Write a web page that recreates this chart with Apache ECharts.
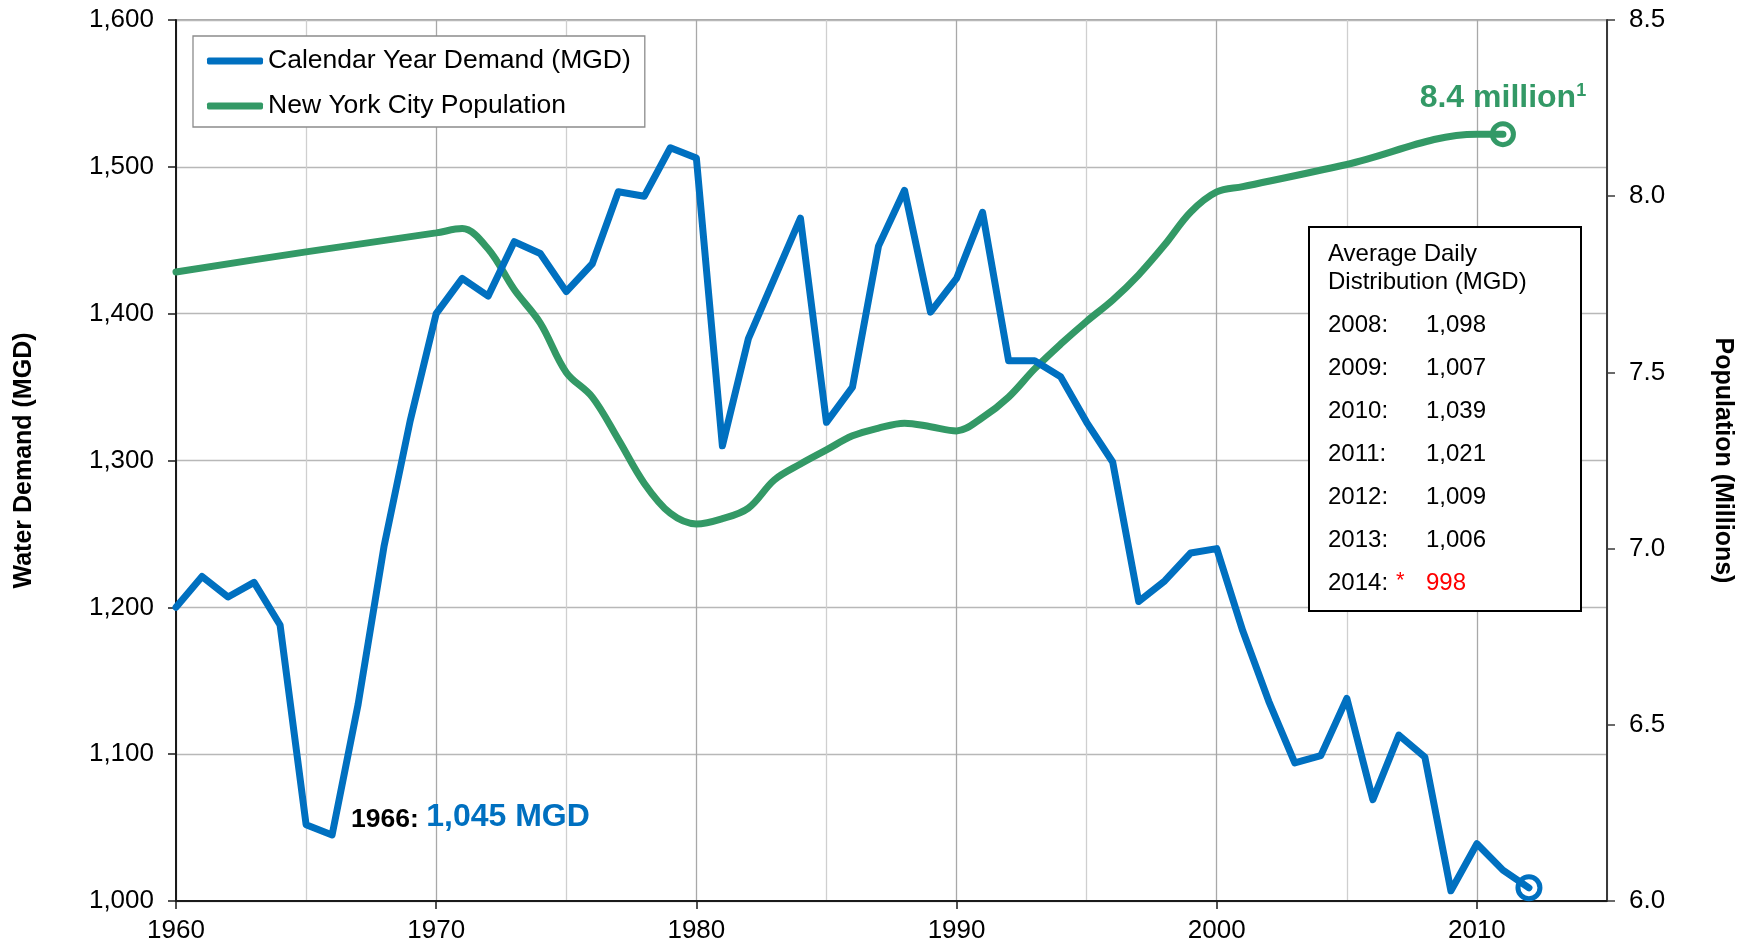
<!DOCTYPE html>
<html>
<head>
<meta charset="utf-8">
<script src="https://cdn.jsdelivr.net/npm/echarts@6.0.0/dist/echarts.min.js"></script>
<style>
  html, body { margin: 0; padding: 0; background: #fff; }
  #chart { width: 1748px; height: 944px; }
</style>
</head>
<body>
<div id="chart"></div>
<script>
// calendar year demand (MGD), 1960 - 2012
const demandYears = [
  1960, 1961, 1962, 1963, 1964, 1965, 1966, 1967, 1968, 1969,
  1970, 1971, 1972, 1973, 1974, 1975, 1976, 1977, 1978, 1979,
  1980, 1981, 1982, 1983, 1984, 1985, 1986, 1987, 1988, 1989,
  1990, 1991, 1992, 1993, 1994, 1995, 1996, 1997, 1998, 1999,
  2000, 2001, 2002, 2003, 2004, 2005, 2006, 2007, 2008, 2009,
  2010, 2011, 2012
]
const demandValues = [
  1200, 1221, 1207, 1217, 1188, 1052, 1045, 1134, 1242, 1327,
  1400, 1424, 1412, 1449, 1441, 1415, 1434, 1483, 1480, 1513,
  1506, 1310, 1383, 1424, 1465, 1326, 1350, 1446, 1484, 1401,
  1424, 1469, 1368, 1368, 1357, 1326, 1299, 1204, 1218, 1237,
  1240, 1184, 1136, 1094, 1099, 1138, 1069, 1113, 1098, 1007,
  1039, 1021, 1009
]

// NYC population (millions)
const popYears = [
  1960, 1965, 1970, 1971, 1972, 1973, 1974, 1975, 1976, 1977, 1978, 1979,
  1980, 1981, 1982, 1983, 1984, 1985, 1986, 1987, 1988, 1989,
  1990, 1991, 1992, 1993, 1994, 1995, 1996, 1997, 1998, 1999,
  2000, 2001, 2005, 2010, 2011
]
const popValues = [
  7.785, 7.842, 7.896, 7.908, 7.85, 7.735, 7.64, 7.5, 7.43, 7.31, 7.185, 7.1,
  7.07, 7.085, 7.115, 7.195, 7.24, 7.28, 7.32, 7.342, 7.356, 7.346,
  7.334, 7.372, 7.43, 7.51, 7.58, 7.645, 7.705, 7.777, 7.862, 7.955,
  8.012, 8.027, 8.09, 8.176, 8.176
]

const xLabelYears = [1960, 1970, 1980, 1990, 2000, 2010]

// inset table
const insetYears = ['2008:', '2009:', '2010:', '2011:', '2012:', '2013:', '2014:']
const insetValues = ['1,098', '1,007', '1,039', '1,021', '1,009', '1,006', '998']
const insetEstimated = [false, false, false, false, false, false, true]

const BLUE = '#0070C0'
const GREEN = '#339966'
const FONT = '"Liberation Sans", Arial, sans-serif'

const chart = echarts.init(document.getElementById('chart'))

const demandData = demandYears.map((y, i) => [y, demandValues[i]])
const popData = popYears.map((y, i) => [y, popValues[i]])
const lastDemand = demandData[demandData.length - 1]
const lastPop = popData[popData.length - 1]
const minDemandIdx = demandValues.indexOf(Math.min(...demandValues.slice(0, 20)))

// inset box (drawn above the plot)
const insetTop = 226
const insetLeft = 1308
const txt = (x, y, text, font, fill) => ({
  type: 'text', x: x, y: y, z: 101,
  style: { text: text, font: font, fill: fill, verticalAlign: 'middle' }
})
const insetChildren = [
  { type: 'rect', z: 100, shape: { x: 0, y: 0, width: 272, height: 384 },
    style: { fill: '#fff', stroke: '#000', lineWidth: 2 } },
  txt(19, 27, 'Average Daily', '24px ' + FONT, '#000'),
  txt(19, 55, 'Distribution (MGD)', '24px ' + FONT, '#000')
]
insetYears.forEach((yr, i) => {
  const cy = 98 + i * 43.1
  insetChildren.push(txt(19, cy, yr, '24px ' + FONT, '#000'))
  if (insetEstimated[i]) {
    insetChildren.push(txt(87, cy - 3, '*', '22px ' + FONT, '#ff0000'))
  }
  insetChildren.push(txt(117, cy, insetValues[i], '24px ' + FONT,
    insetEstimated[i] ? '#ff0000' : '#000'))
})

const option = {
  animation: false,
  backgroundColor: '#fff',
  textStyle: { fontFamily: FONT },
  grid: {
    left: 176, right: 141, top: 20, bottom: 43,
    show: true, borderColor: '#8c8c8c', borderWidth: 1.5
  },
  legend: {
    orient: 'vertical',
    left: 193, top: 36,
    padding: [11, 14, 7, 14],
    itemGap: 17,
    itemWidth: 56, itemHeight: 7,
    itemTextGap: 3,
    icon: 'roundRect',
    borderColor: '#8c8c8c', borderWidth: 1.3,
    backgroundColor: '#fff',
    textStyle: { fontSize: 26.5, color: '#000', lineHeight: 28, fontFamily: FONT },
    data: ['Calendar Year Demand (MGD)', 'New York City Population']
  },
  xAxis: [
    {
      type: 'value', min: 1960, max: 2015, interval: 5,
      axisLine: { show: true, onZero: false, lineStyle: { color: '#1a1a1a', width: 2 } },
      axisTick: { show: false },
      axisLabel: { show: false },
      splitLine: { show: true, lineStyle: { color: ['#a8a8a8', '#cfcfcf'], width: 1.3 } }
    },
    {
      type: 'value', min: 1960, max: 2015, position: 'bottom',
      axisLine: { show: false },
      axisTick: { show: true, customValues: xLabelYears, length: 8, lineStyle: { color: '#1a1a1a', width: 1.5 } },
      axisLabel: { show: true, customValues: xLabelYears, margin: 17, fontSize: 26, color: '#000',
        formatter: v => String(v) },
      splitLine: { show: false }
    }
  ],
  yAxis: [
    {
      type: 'value', min: 1000, max: 1600, interval: 100,
      name: 'Water Demand (MGD)', nameLocation: 'middle', nameGap: 139,
      nameTextStyle: { fontSize: 25, fontWeight: 'bold', color: '#000' },
      axisLine: { show: true, lineStyle: { color: '#1a1a1a', width: 2 } },
      axisTick: { show: true, length: 8, lineStyle: { color: '#1a1a1a', width: 1.5 } },
      axisLabel: { margin: 22, fontSize: 26, color: '#000',
        formatter: v => v.toLocaleString('en-US') },
      splitLine: { show: true, lineStyle: { color: '#b8b8b8', width: 1.3 } }
    },
    {
      type: 'value', min: 6, max: 8.5, interval: 0.5, position: 'right',
      name: 'Population (Millions)', nameLocation: 'middle', nameGap: 103, nameRotate: -90,
      nameTextStyle: { fontSize: 25, fontWeight: 'bold', color: '#000' },
      axisLine: { show: true, lineStyle: { color: '#3a3a3a', width: 2 } },
      axisTick: { show: true, length: 8, lineStyle: { color: '#3a3a3a', width: 1.5 } },
      axisLabel: { margin: 22, fontSize: 26, color: '#000', formatter: v => v.toFixed(1) },
      splitLine: { show: false }
    }
  ],
  series: [
    {
      name: 'Calendar Year Demand (MGD)',
      type: 'line',
      xAxisIndex: 0, yAxisIndex: 0,
      data: demandData,
      showSymbol: false,
      z: 3,
      lineStyle: { color: BLUE, width: 7, join: 'round', cap: 'round' },
      itemStyle: { color: BLUE },
      markPoint: {
        silent: true,
        data: [
          {
            coord: demandData[minDemandIdx],
            symbol: 'circle', symbolSize: 0,
            label: {
              show: true, position: [19, -34], align: 'left',
              formatter: '{a|' + demandYears[minDemandIdx] + ': }{b|' +
                demandValues[minDemandIdx].toLocaleString('en-US') + ' MGD}',
              rich: {
                a: { fontSize: 26.5, fontWeight: 'bold', color: '#000', verticalAlign: 'bottom', fontFamily: FONT },
                b: { fontSize: 32, fontWeight: 'bold', color: BLUE, verticalAlign: 'bottom', fontFamily: FONT }
              }
            }
          },
          {
            coord: lastDemand,
            symbol: 'circle', symbolSize: 22,
            itemStyle: { color: 'rgba(255,255,255,0)', borderColor: BLUE, borderWidth: 5 },
            label: { show: false }
          }
        ]
      }
    },
    {
      name: 'New York City Population',
      type: 'line',
      xAxisIndex: 0, yAxisIndex: 1,
      data: popData,
      showSymbol: false,
      smooth: 0.35,
      z: 2,
      lineStyle: { color: GREEN, width: 7, cap: 'round' },
      itemStyle: { color: GREEN },
      markPoint: {
        silent: true,
        data: [
          {
            coord: lastPop,
            symbol: 'circle', symbolSize: 21,
            itemStyle: { color: 'rgba(255,255,255,0)', borderColor: GREEN, borderWidth: 5 },
            label: {
              show: true, position: 'top', distance: 7,
              formatter: '{a|8.4 million}{s|1}',
              rich: {
                a: { fontSize: 32, fontWeight: 'bold', color: GREEN, verticalAlign: 'bottom', fontFamily: FONT },
                s: { fontSize: 18, fontWeight: 'bold', color: GREEN, verticalAlign: 'top', fontFamily: FONT }
              }
            }
          }
        ]
      }
    }
  ],
  graphic: [
    { type: 'group', left: insetLeft, top: insetTop, z: 100, children: insetChildren }
  ]
}

chart.setOption(option)
</script>
</body>
</html>
